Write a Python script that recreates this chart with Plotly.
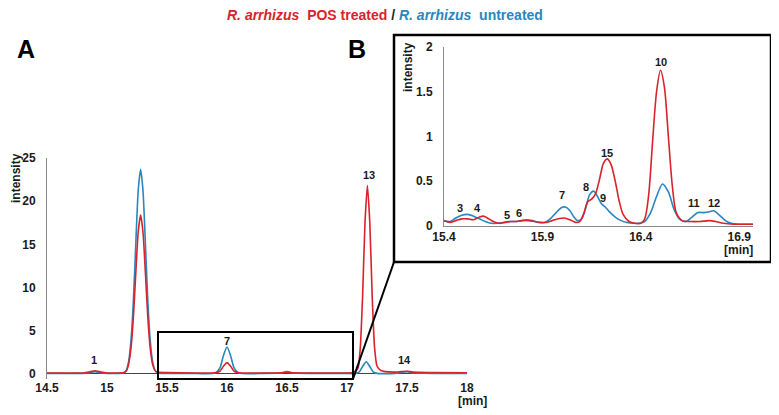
import plotly.graph_objects as go

RED = "#d8232a"
BLUE = "#2a86bf"

# main chromatogram (panel A)
main_x_treated = [14.5, 14.8, 14.85, 14.9, 14.95, 15.0, 15.1, 15.14, 15.16, 15.18, 15.2, 15.22, 15.24,
                  15.26, 15.28, 15.3, 15.32, 15.34, 15.36, 15.38, 15.4, 15.42, 15.5, 15.7, 15.9, 15.94,
                  15.97, 16.0, 16.03, 16.06, 16.1, 16.3, 16.45, 16.5, 16.55, 16.7, 17.0, 17.05, 17.09,
                  17.11, 17.13, 17.15, 17.17, 17.19, 17.21, 17.23, 17.25, 17.28, 17.32, 17.4, 17.45,
                  17.5, 17.55, 17.7, 18.0]
main_y_treated = [0.1, 0.1, 0.2, 0.35, 0.2, 0.1, 0.1, 0.15, 0.3, 1.1, 3.0, 6.6, 11.7,
                  16.4, 18.4, 16.4, 11.7, 6.6, 3.0, 1.1, 0.4, 0.2, 0.15, 0.1, 0.12, 0.3,
                  0.88, 1.3, 0.88, 0.3, 0.12, 0.1, 0.12, 0.2, 0.12, 0.1, 0.1, 0.15, 0.6,
                  2.9, 9.0, 17.5, 21.8, 17.5, 9.0, 3.0, 0.9, 0.4, 0.25, 0.2, 0.25,
                  0.3, 0.2, 0.15, 0.12]

main_x_untreated = [14.5, 14.8, 14.85, 14.9, 14.95, 15.0, 15.1, 15.14, 15.16, 15.18, 15.2, 15.22, 15.24,
                    15.26, 15.28, 15.3, 15.32, 15.34, 15.36, 15.38, 15.4, 15.42, 15.5, 15.7, 15.9, 15.94,
                    15.97, 16.0, 16.03, 16.06, 16.1, 16.3, 16.45, 16.5, 16.55, 16.7, 17.0, 17.04, 17.07,
                    17.1, 17.13, 17.16, 17.19, 17.22, 17.25, 17.3, 17.4, 17.45, 17.5, 17.55, 17.7, 18.0]
main_y_untreated = [0.05, 0.05, 0.12, 0.25, 0.12, 0.05, 0.05, 0.1, 0.4, 1.4, 3.9, 8.5, 15.1,
                    21.2, 23.7, 21.2, 15.1, 8.5, 3.9, 1.4, 0.4, 0.1, 0.05, 0.05, 0.08, 0.65,
                    2.1, 3.1, 2.1, 0.65, 0.08, 0.05, 0.1, 0.25, 0.1, 0.05, 0.05, 0.02, 0.05,
                    0.19, 0.85, 1.4, 0.85, 0.19, 0.05, 0.02, 0.05, 0.15, 0.25, 0.12, 0.05, 0.03]

main_labels = ["1", "2", "7", "13", "14"]
main_label_x = [14.89, 15.28, 16.0, 17.18, 17.48]
main_label_y = [1.6, 25.1, 3.8, 23.0, 1.6]

# zoomed region (panel B)
inset_x_treated = [15.4, 15.43, 15.46, 15.49, 15.52, 15.55, 15.58, 15.6, 15.62, 15.65, 15.68, 15.71,
                   15.74, 15.77, 15.8, 15.83, 15.86, 15.89, 15.92, 15.95, 15.98, 16.01, 16.04, 16.07,
                   16.09, 16.11, 16.13, 16.15, 16.17, 16.19, 16.21, 16.23, 16.25, 16.27, 16.29, 16.31,
                   16.34, 16.37, 16.4, 16.42, 16.44, 16.46, 16.48, 16.5, 16.52, 16.54, 16.56, 16.58,
                   16.61, 16.65, 16.7, 16.75, 16.78, 16.82, 16.87, 16.97]
inset_y_treated = [0.06, 0.04, 0.06, 0.08, 0.08, 0.07, 0.1, 0.11, 0.09, 0.05, 0.03, 0.04,
                   0.05, 0.05, 0.06, 0.06, 0.05, 0.04, 0.04, 0.06, 0.08, 0.09, 0.07, 0.04,
                   0.05, 0.14, 0.27, 0.3, 0.36, 0.52, 0.7, 0.75, 0.68, 0.5, 0.28, 0.13,
                   0.05, 0.03, 0.03, 0.08, 0.35, 0.95, 1.5, 1.74, 1.55, 1.0, 0.45, 0.15,
                   0.06, 0.05, 0.05, 0.06, 0.05, 0.03, 0.02, 0.02]

inset_x_untreated = [15.4, 15.43, 15.46, 15.49, 15.52, 15.55, 15.58, 15.61, 15.64, 15.67, 15.7, 15.73,
                     15.76, 15.79, 15.82, 15.85, 15.88, 15.91, 15.94, 15.97, 16.0, 16.02, 16.04, 16.06,
                     16.08, 16.1, 16.12, 16.14, 16.16, 16.18, 16.2, 16.22, 16.24, 16.27, 16.3, 16.33,
                     16.36, 16.39, 16.42, 16.45, 16.48, 16.51, 16.54, 16.57, 16.6, 16.63, 16.66, 16.69,
                     16.72, 16.75, 16.77, 16.8, 16.83, 16.86, 16.9, 16.97]
inset_y_untreated = [0.06, 0.05, 0.09, 0.12, 0.13, 0.11, 0.08, 0.05, 0.03, 0.03, 0.04, 0.05,
                     0.05, 0.06, 0.07, 0.06, 0.04, 0.04, 0.08, 0.15, 0.21, 0.21, 0.17, 0.1,
                     0.06, 0.08, 0.2, 0.35, 0.39, 0.33, 0.25, 0.21, 0.16, 0.1, 0.06, 0.04,
                     0.03, 0.03, 0.05, 0.15, 0.33, 0.47, 0.38, 0.18, 0.07, 0.05, 0.1, 0.15,
                     0.15, 0.16, 0.17, 0.12, 0.06, 0.03, 0.02, 0.02]

inset_labels = ["3", "4", "5", "6", "7", "8", "9", "15", "10", "11", "12"]
inset_label_x = [15.48, 15.57, 15.72, 15.78, 16.0, 16.12, 16.21, 16.23, 16.5, 16.67, 16.77]
inset_label_y = [0.2, 0.2, 0.12, 0.14, 0.35, 0.44, 0.31, 0.82, 1.83, 0.26, 0.26]

# the page body adds an 8px margin, so the figure is 771x407 and pixel
# positions below are given in window coordinates
W, H, OFF = 771, 407, 8


def px(x):
    return (x - OFF) / W


def py(y):
    return (H - (y - OFF)) / H


FONT = "Liberation Sans"
tickfont = dict(family=FONT, size=12, color="#1a1a1a", weight="bold")

fig = go.Figure()
fig.add_trace(go.Scatter(x=main_x_untreated, y=main_y_untreated, mode="lines",
                         line=dict(color=BLUE, width=1.6, shape="spline", smoothing=0.6),
                         xaxis="x", yaxis="y", showlegend=False))
fig.add_trace(go.Scatter(x=main_x_treated, y=main_y_treated, mode="lines",
                         line=dict(color=RED, width=1.6, shape="spline", smoothing=0.6),
                         xaxis="x", yaxis="y", showlegend=False))
fig.add_trace(go.Scatter(x=inset_x_untreated, y=inset_y_untreated, mode="lines",
                         line=dict(color=BLUE, width=1.6, shape="spline", smoothing=0.8),
                         xaxis="x2", yaxis="y2", showlegend=False))
fig.add_trace(go.Scatter(x=inset_x_treated, y=inset_y_treated, mode="lines",
                         line=dict(color=RED, width=1.6, shape="spline", smoothing=0.8),
                         xaxis="x2", yaxis="y2", showlegend=False))

peakfont = dict(family=FONT, size=11, color="#1a1a1a", weight="bold")
annotations = []
for t, x, y in zip(main_labels, main_label_x, main_label_y):
    annotations.append(dict(text=t, x=x, y=y, xref="x", yref="y", showarrow=False,
                            xanchor="center", yanchor="middle", font=peakfont))
for t, x, y in zip(inset_labels, inset_label_x, inset_label_y):
    annotations.append(dict(text=t, x=x, y=y, xref="x2", yref="y2", showarrow=False,
                            xanchor="center", yanchor="middle", font=peakfont))

lab = dict(family=FONT, size=12, color="#1a1a1a", weight="bold")


def note(text, x, y, font, angle=0):
    return dict(text=text, x=px(x), y=py(y), xref="paper", yref="paper", showarrow=False,
                xanchor="center", yanchor="middle", textangle=angle, font=font)


annotations += [
    note("[min]", 472, 401, lab),
    note("[min]", 738, 250, lab),
    note("intensity", 16, 178, lab, -90),
    note("intensity", 408, 67, lab, -90),
    note("A", 26, 49, dict(family=FONT, size=25, color="#000", weight="bold")),
    note("B", 357, 49, dict(family=FONT, size=25, color="#000", weight="bold")),
    note(f"<span style='color:{RED}'><i>R. arrhizus</i>  POS treated</span>"
         f"<span style='color:#222'> / </span>"
         f"<span style='color:{BLUE}'><i>R. arrhizus</i>  untreated</span>",
         385, 15, dict(family=FONT, size=14, weight="bold")),
]

shapes = [
    # box around zoomed region in panel A
    dict(type="rect", xref="paper", yref="paper", x0=px(158), x1=px(353), y0=py(379), y1=py(332),
         line=dict(color="#000", width=2)),
    # connector
    dict(type="line", xref="paper", yref="paper", x0=px(353), y0=py(379), x1=px(394), y1=py(262),
         line=dict(color="#000", width=2)),
    # inset frame
    dict(type="rect", xref="paper", yref="paper", x0=px(394), x1=px(771), y0=py(262), y1=py(35),
         line=dict(color="#000", width=2.5)),
]

fig.update_layout(
    template="none",
    width=W, height=H,
    margin=dict(l=0, r=0, t=0, b=0, autoexpand=False),
    paper_bgcolor="white", plot_bgcolor="white",
    annotations=annotations, shapes=shapes,
    xaxis=dict(domain=[px(47), px(467)], range=[14.5, 18.0], anchor="y", automargin=False,
               tickvals=[14.5, 15, 15.5, 16, 16.5, 17, 17.5, 18],
               ticktext=["14.5", "15", "15.5", "16", "16.5", "17", "17.5", "18"],
               showgrid=False, zeroline=False, showline=False, ticks="", tickfont=tickfont),
    yaxis=dict(domain=[py(379), py(158)], range=[-0.6, 25], anchor="x", automargin=False,
               tickvals=[0, 5, 10, 15, 20, 25], showgrid=False,
               zeroline=True, zerolinecolor="#444", zerolinewidth=1,
               showline=True, linecolor="#8a8a8a", linewidth=1, ticks="",
               ticklabelstandoff=8, tickfont=tickfont),
    xaxis2=dict(domain=[px(444), px(753)], range=[15.4, 16.97], anchor="y2", automargin=False,
                tickvals=[15.4, 15.9, 16.4, 16.9], ticktext=["15.4", "15.9", "16.4", "16.9"],
                showgrid=False, zeroline=False, showline=True, linecolor="#8a8a8a", linewidth=1,
                ticks="", tickfont=tickfont),
    yaxis2=dict(domain=[py(226), py(47)], range=[0, 2], anchor="x2", automargin=False,
                tickvals=[0, 0.5, 1, 1.5, 2], ticktext=["0", "0.5", "1", "1.5", "2"],
                showgrid=False, zeroline=False, showline=True, linecolor="#8a8a8a", linewidth=1,
                ticks="", ticklabelstandoff=8, tickfont=tickfont),
)

fig.write_html("out.html")
